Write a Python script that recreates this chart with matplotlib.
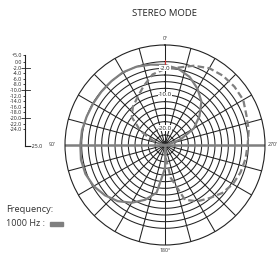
import numpy as np
import matplotlib
matplotlib.use("Agg")
import matplotlib.pyplot as plt

# ---- data ----
angles_deg = list(range(0, 360, 10))
left_db = [-1.0, -0.5, 0.0, 0.2, 0.0, -0.1, -0.1, 0.0, 0.3, 0.4,
           0.6, 0.4, -0.3, -1.5, -3.0, -5.0, -7.5, -10.5, -18.0, -24.0,
           -25.0, -25.0, -25.0, -25.0, -25.0, -25.0, -25.0, -25.0, -24.0, -20.0,
           -15.0, -11.5, -8.0, -5.5, -3.3, -1.8]
right_db = [-2.2, -3.5, -6.2, -8.5, -10.0, -12.0, -16.5, -21.0, -24.0, -25.0,
            -25.0, -25.0, -25.0, -25.0, -25.0, -25.0, -25.0, -25.0, -22.0, -15.0,
            -7.5, -5.5, -4.2, -2.6, -1.5, -0.9, -0.5, -0.2, 0.5, 1.0,
            2.1, 2.2, 2.1, 1.6, 0.3, -1.4]
ring_levels = [0, -2, -4, -6, -8, -10, -12, -14, -16, -18, -20, -22, -24]
ring_labels = {-2: "-2.0", -10: "-10.0", -20: "-20.0"}
scale_labels = ["+5.0", "0.0", "-2.0", "-4.0", "-6.0", "-8.0", "-10.0", "-12.0",
                "-14.0", "-16.0", "-18.0", "-20.0", "-22.0", "-24.0"]
scale_major = ["-2.0", "-10.0", "-20.0"]
r_min, r_max = -25, 5
title = "STEREO MODE"

W, H = 280, 256
fig = plt.figure(figsize=(W / 100, H / 100), dpi=100)
plt.rcParams['font.family'] = ['Open Sans', 'DejaVu Sans']

grid_c = "#222222"
curve_c = "#7f7f7f"

# ---- polar chart ----
cx, cy, R = 165, 145, 100
ax = fig.add_axes([(cx - R) / W, (H - cy - R) / H, 2 * R / W, 2 * R / H],
                  projection='polar')
ax.set_theta_zero_location('N')
ax.set_theta_direction(1)
ax.set_ylim(r_min, r_max)
ax.set_xticks([])
ax.set_yticks([])
ax.grid(False)
ax.spines['polar'].set_color(grid_c)
ax.spines['polar'].set_linewidth(0.8)

th_full = np.linspace(0, 2 * np.pi, 361)
for lv in ring_levels:
    ax.plot(th_full, np.full_like(th_full, lv), color=grid_c, lw=0.75, zorder=1)
for a in range(0, 360, 15):
    if a in (90, 270):
        continue
    t = np.deg2rad(a)
    ax.plot([t, t], [r_min, r_max], color=grid_c, lw=0.75, zorder=1)
# horizontal axis (90-270)
ax.plot([np.pi / 2, np.pi / 2], [r_min, r_max], color=curve_c, lw=1.8, zorder=2)
ax.plot([3 * np.pi / 2, 3 * np.pi / 2], [r_min, r_max], color=curve_c, lw=1.8, zorder=2)

th = np.deg2rad(angles_deg + [360])
ax.plot(th, left_db + left_db[:1], color=curve_c, lw=1.6, zorder=3)
ax.plot(th, right_db + right_db[:1], color=curve_c, lw=1.6,
        linestyle=(0, (3.0, 1.5)), zorder=3)
ax.plot([0], [0], marker='|', color='#cc3333', ms=2.5, mew=0.8, zorder=4)

for lv, lab in ring_labels.items():
    ax.text(0, lv, lab, ha='center', va='center', fontsize=4.4, color='#222',
            zorder=5, bbox=dict(facecolor='white', edgecolor='none', pad=0.3))

lab_kw = dict(fontsize=3.8, color='#333', textcoords='offset points')
ax.annotate("0°", xy=(0, r_max), xytext=(0, 3), ha='center', va='bottom',
            annotation_clip=False, **lab_kw)
ax.annotate("180°", xy=(np.pi, r_max), xytext=(0, -2.5), ha='center', va='top',
            annotation_clip=False, **lab_kw)
ax.annotate("270'", xy=(3 * np.pi / 2, r_max), xytext=(2, 0), ha='left',
            va='center', annotation_clip=False, **lab_kw)
ax.annotate("90'", xy=(np.pi / 2, r_max), xytext=(-6.5, 0), ha='right',
            va='center', annotation_clip=False, **lab_kw)

# ---- left scale key ----
top_px, bot_px, x_px = 55, 146, 25
sax = fig.add_axes([x_px / W, (H - bot_px) / H, 5 / W, (bot_px - top_px) / H])
pos = [-1.25] + list(range(0, 13))
sax.set_ylim(15, -1.25)
sax.set_xlim(0, 1)
for s in ['top', 'right']:
    sax.spines[s].set_visible(False)
for s in ['left', 'bottom']:
    sax.spines[s].set_color('#222')
    sax.spines[s].set_linewidth(0.8)
sax.set_xticks([])
sax.set_yticks(pos)
sax.set_yticklabels(scale_labels)
sax.tick_params(axis='y', labelsize=3.8, length=1.8, width=0.6, pad=0.6,
                colors='#222')
for tick, lab in zip(sax.yaxis.get_major_ticks(), scale_labels):
    if lab in scale_major:
        tick.tick1line.set_markersize(3)
sax.patch.set_alpha(0)
for lab in scale_major:
    i = scale_labels.index(lab)
    sax.plot([0, 0.9], [pos[i], pos[i]], color='#222', lw=0.6, clip_on=False)
sax.text(1.1, 15, "-25.0", fontsize=3.8, color='#222', ha='left', va='center')

# ---- title & legend ----
fig.text(cx / W, 1 - 13 / H, title, ha='center', va='center', fontsize=6.8,
         color='#222')
fig.text(6 / W, 1 - 210 / H, "Frequency:", ha='left', va='center',
         fontsize=6.7, color='#333')
fig.text(6 / W, 1 - 224 / H, "1000 Hz :", ha='left', va='center',
         fontsize=6.5, color='#333')
fig.patches.append(plt.Rectangle((50 / W, 1 - 226 / H), 13 / W, 4.5 / H,
                                 transform=fig.transFigure, color=curve_c))

fig.savefig("out.png", dpi=100)
